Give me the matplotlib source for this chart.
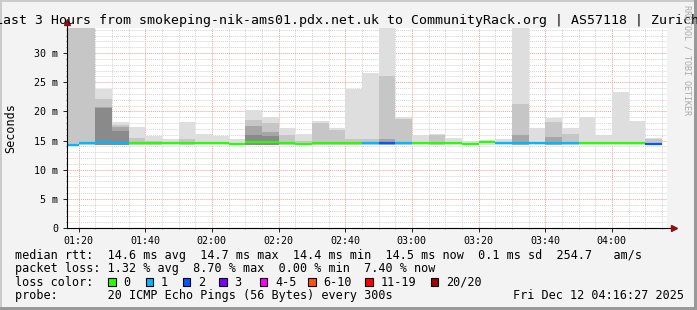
import numpy as np
import matplotlib
matplotlib.use("Agg")
import matplotlib.pyplot as plt
from matplotlib.patches import Rectangle
from matplotlib.ticker import MultipleLocator, FuncFormatter

plt.rcParams["font.family"] = ["DejaVu Sans Mono"]

# ---- data (5 min bins, ms) ----
bin_start = ["01:15", "01:20", "01:25", "01:30", "01:35", "01:40",
             "01:45", "01:50", "01:55", "02:00", "02:05", "02:10",
             "02:15", "02:20", "02:25", "02:30", "02:35", "02:40",
             "02:45", "02:50", "02:55", "03:00", "03:05", "03:10",
             "03:15", "03:20", "03:25", "03:30", "03:35", "03:40",
             "03:45", "03:50", "03:55", "04:00", "04:05", "04:10"]
nan = np.nan
smoke_floor = 14.2
smoke_max = [60, 60, 23.8, 18.2, 17.4, 15.7, 15.2, 18.2, 16.1, 15.8, 15.2, 20.3,
             19.0, 17.1, 16.1, 18.3, 17.1, 23.9, 26.6, 60, 19.0, 16.0, 16.2, 15.4,
             15.0, 15.1, 15.2, 60, 17.1, 18.9, 17.1, 19.0, 16.0, 23.4, 18.4, 15.5]
smoke_mid = [60, 60, 22.2, 17.6, 15.4, 15.0, nan, 15.2, nan, nan, nan, 18.5,
             18.0, 16.0, 15.0, 18.0, 16.8, 15.2, 15.3, 26.1, 18.7, nan, 15.9, nan,
             nan, nan, nan, 21.3, nan, 18.2, 16.1, nan, nan, nan, nan, 15.2]
smoke_dark = [nan, nan, 20.8, 17.4, nan, nan, nan, nan, nan, nan, nan, 17.5,
              16.5, nan, nan, nan, nan, nan, nan, 15.2, nan, nan, nan, nan,
              nan, nan, nan, 16.0, nan, 15.6, nan, nan, nan, nan, nan, nan]
smoke_core = [nan, nan, 20.6, 16.7, nan, nan, nan, nan, nan, nan, nan, 16.0,
              15.8, nan, nan, nan, nan, nan, nan, nan, nan, nan, nan, nan,
              nan, nan, nan, nan, nan, nan, nan, nan, nan, nan, nan, nan]
median_rtt = [14.3, 14.6, 14.7, 14.6, 14.6, 14.6, 14.6, 14.6, 14.6, 14.6, 14.4, 14.7,
              14.8, 14.6, 14.4, 14.6, 14.6, 14.6, 14.6, 14.6, 14.6, 14.6, 14.6, 14.6,
              14.4, 14.7, 14.6, 14.6, 14.6, 14.6, 14.6, 14.6, 14.6, 14.6, 14.6, 14.4]
loss_pings = [1, 1, 1, 1, 0, 0, 0, 0, 0, 0, 0, 0,
              0, 0, 0, 0, 0, 0, 1, 2, 1, 0, 0, 0,
              0, 0, 1, 1, 1, 1, 1, 0, 0, 0, 0, 2]

loss_labels = ["0", "1", "2", "3", "4-5", "6-10", "11-19", "20/20"]
loss_colors = ["#26ff00", "#00b8ff", "#0059ff", "#7e00ff",
               "#ff00ff", "#ff5500", "#ff0000", "#a10000"]

title = "Last 3 Hours from smokeping-nik-ams01.pdx.net.uk to CommunityRack.org | AS57118 | Zurich"
stats_rtt = "median rtt:  14.6 ms avg  14.7 ms max  14.4 ms min  14.5 ms now  0.1 ms sd  254.7   am/s"
stats_loss = "packet loss: 1.32 % avg  8.70 % max  0.00 % min  7.40 % now"
probe_line = "probe:       20 ICMP Echo Pings (56 Bytes) every 300s"
stamp = "Fri Dec 12 04:16:27 2025"
view_start, view_end = "01:16:27", "04:16:27"


def to_min(s):
    parts = [int(p) for p in s.split(":")]
    return parts[0] * 60 + parts[1] + (parts[2] / 60 if len(parts) > 2 else 0)


def loss_index(n):
    for i, lim in enumerate([0, 1, 2, 3, 5, 10, 19, 20]):
        if n <= lim:
            return i
    return 7


W, H = 697, 310
fig = plt.figure(figsize=(W / 100, H / 100), dpi=100, facecolor="#f3f3f3")
ax = fig.add_axes([66.7 / W, (H - 228) / H, 600 / W, 200 / H])
ax.set_facecolor("white")

x0 = np.array([to_min(t) for t in bin_start])

# smoke layers, light to dark
for layer, col in [(smoke_max, "#dedede"), (smoke_mid, "#c6c6c6"),
                   (smoke_dark, "#a6a6a6"), (smoke_core, "#8a8a8a")]:
    v = np.array(layer, dtype=float)
    ok = ~np.isnan(v)
    ax.bar(x0[ok], v[ok] - smoke_floor, bottom=smoke_floor, width=5,
           align="edge", color=col, linewidth=0, zorder=2)

line_cols = [loss_colors[loss_index(n)] for n in loss_pings]
ax.hlines(median_rtt, x0, x0 + 5, colors=line_cols, lw=1.6, zorder=3)

ax.set_xlim(to_min(view_start), to_min(view_end))
ax.set_ylim(0, 34.29)

ax.xaxis.set_major_locator(MultipleLocator(20))
ax.xaxis.set_minor_locator(MultipleLocator(5))
ax.yaxis.set_major_locator(MultipleLocator(5))
ax.yaxis.set_minor_locator(MultipleLocator(1))
ax.xaxis.set_major_formatter(FuncFormatter(
    lambda v, p: "%02d:%02d" % (int(round(v)) // 60, int(round(v)) % 60)))
ax.yaxis.set_major_formatter(FuncFormatter(
    lambda v, p: "0" if v == 0 else "%d m" % v))

ax.set_axisbelow(True)
ax.grid(which="major", color="#eba0a0", linestyle=(0, (1, 1)), lw=0.7)
ax.grid(which="minor", color="#d4d4d4", linestyle=(0, (1, 1)), lw=0.7)
ax.tick_params(which="major", length=3, width=0.6, labelsize=7.2, pad=3)
ax.tick_params(which="minor", length=1, width=0.5, color="#555555")
ax.tick_params(axis="x", pad=2.5)

for side in ("top", "right", "left", "bottom"):
    ax.spines[side].set_visible(False)
ax.plot([0, 0], [0, 1.03], transform=ax.transAxes, color="black",
        lw=0.8, clip_on=False, zorder=5)
ax.plot([0, 1.012], [0, 0], transform=ax.transAxes, color="black",
        lw=0.8, clip_on=False, zorder=5)
ax.plot([0], [1.03], marker="^", ms=4, color="#8b1010",
        transform=ax.transAxes, clip_on=False, zorder=6)
ax.plot([1.012], [0], marker=">", ms=4, color="#8b1010",
        transform=ax.transAxes, clip_on=False, zorder=6)

fig.text(10.5 / W, 1 - 128 / H, "Seconds", rotation=90, ha="center",
         va="center", fontsize=8.5)
fig.text(-4.6 / W, 1 - 24 / H, title, ha="left", va="baseline", fontsize=9.5)
fig.text(686.5 / W, 1 - 5 / H, "RRDTOOL / TOBI OETIKER", rotation=270,
         ha="center", va="top", fontsize=6, color="#aaaaaa")

fs = 8.5
fig.text(15.3 / W, 1 - 258.5 / H, stats_rtt, fontsize=fs, va="baseline")
fig.text(15.3 / W, 1 - 271.8 / H, stats_loss, fontsize=fs, va="baseline")
fig.text(15.3 / W, 1 - 285.5 / H, "loss color:", fontsize=fs, va="baseline")
fig.text(15.3 / W, 1 - 299.2 / H, probe_line, fontsize=fs, va="baseline")
fig.text(513.3 / W, 1 - 299.2 / H, stamp, fontsize=fs, va="baseline")

box_x = [108.3, 145.7, 182.7, 219.3, 260, 308.3, 365.3, 431]
for bx, lab, col in zip(box_x, loss_labels, loss_colors):
    fig.patches.append(Rectangle((bx / W, 1 - 285.7 / H), 7.4 / W, 8 / H,
                                 transform=fig.transFigure, facecolor=col,
                                 edgecolor="black", lw=0.8))
    fig.text((bx + 15) / W, 1 - 285.5 / H, lab, fontsize=fs, va="baseline")

# rrdtool style frame
fig.patches.append(Rectangle((0, 0), 2 / W, 1, transform=fig.transFigure,
                             facecolor="#cbcbcb", lw=0))
fig.patches.append(Rectangle((0, 1 - 2 / H), 1, 2 / H, transform=fig.transFigure,
                             facecolor="#cbcbcb", lw=0))
fig.patches.append(Rectangle((1 - 3 / W, 0), 3 / W, 1, transform=fig.transFigure,
                             facecolor="#999999", lw=0))
fig.patches.append(Rectangle((0, 0), 1, 3 / H, transform=fig.transFigure,
                             facecolor="#999999", lw=0))

fig.savefig("out.png", dpi=100, facecolor=fig.get_facecolor())
